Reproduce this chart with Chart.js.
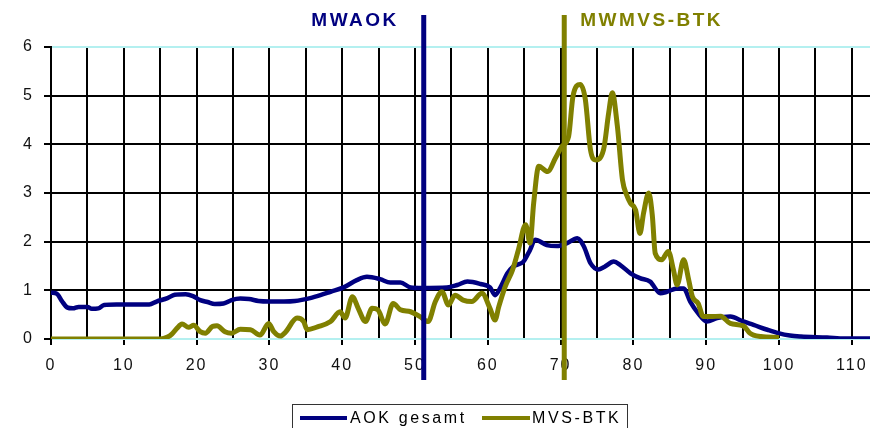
<!DOCTYPE html>
<html><head><meta charset="utf-8">
<script src="https://cdn.jsdelivr.net/npm/chart.js@4/dist/chart.umd.min.js"></script>
<style>html,body{margin:0;padding:0;background:#fff;overflow:hidden}</style>
</head><body>
<canvas id="c" width="870" height="428"></canvas>
<script>
const xTickLabels = [0,10,20,30,40,50,60,70,80,90,100,110];
const yTickLabels = [0,1,2,3,4,5,6];
const seriesNames = ['AOK gesamt','MVS-BTK'];
const seriesColors = ['#000080','#808000'];

const aokAges = [0,0.8,1.5,2.2,3,3.8,5,5.6,6.5,7.3,9,11,13.5,14.5,16,17,18.5,19.5,20.5,21.5,22.5,23.7,24.8,26,27.2,28.5,30,32,33.5,35.6,37,38.4,40.2,42,43.4,45.2,46.6,48,49.4,51,54.4,55.8,57.2,59,60.3,61,61.7,62.7,63.5,64.9,65.8,66.5,68.1,69.5,70.9,72.3,73.2,74.1,75.2,76,77.3,78.2,79.6,80.9,82.3,83.7,84.6,86,86.9,87.8,88.9,90.1,91.5,93.3,95.1,96.5,98.4,99.9,101.5,103,106.6,109,112.5];
const aokValues = [0.95,0.93,0.78,0.65,0.63,0.66,0.66,0.62,0.63,0.70,0.71,0.71,0.71,0.77,0.84,0.91,0.92,0.88,0.80,0.76,0.72,0.73,0.80,0.83,0.82,0.78,0.77,0.77,0.78,0.84,0.90,0.97,1.06,1.21,1.28,1.23,1.16,1.16,1.06,1.05,1.06,1.11,1.18,1.13,1.06,0.90,1.05,1.35,1.49,1.59,1.83,2.04,1.93,1.91,1.97,2.07,1.90,1.56,1.43,1.48,1.59,1.52,1.35,1.25,1.18,0.94,0.97,1.04,1.04,0.77,0.53,0.36,0.43,0.46,0.36,0.29,0.19,0.12,0.07,0.05,0.03,0.01,0.01];

const mvsAges = [0,15,16,16.6,17.3,18,18.9,19.6,20.5,21.2,22.2,22.8,23.9,24.8,26,27.4,28.7,29.9,30.6,31.5,32.2,33.8,34.7,35.2,36.6,38.4,39.7,40.4,41.4,42.2,43.2,44.1,44.9,45.9,47,48,49.4,50.7,51.8,52.8,53.7,54.6,55.5,56.6,57.8,59.2,60.3,61,61.5,62.4,63.4,64.2,65.2,65.8,66.3,67,68.2,69.3,70.2,71.1,71.7,72.7,73.4,74.1,74.8,75.9,76.6,77.1,77.8,78.5,79.1,79.6,80.3,80.9,81.4,82.1,82.6,83,83.9,84.8,85.5,86,86.9,87.6,88.1,88.9,89.6,90.6,92,93.3,95.1,96,96.5,97.5,100];
const mvsValues = [0,0,0.04,0.10,0.22,0.31,0.24,0.28,0.15,0.12,0.26,0.27,0.15,0.12,0.20,0.19,0.08,0.32,0.15,0.06,0.14,0.43,0.36,0.19,0.25,0.36,0.56,0.43,0.87,0.63,0.36,0.63,0.60,0.31,0.73,0.60,0.56,0.46,0.36,0.77,0.97,0.70,0.90,0.80,0.77,0.94,0.63,0.39,0.66,1.08,1.42,1.83,2.35,1.97,2.79,3.55,3.44,3.72,3.96,4.16,4.99,5.23,4.92,3.89,3.68,3.89,4.64,5.06,4.37,3.27,2.95,2.79,2.65,2.17,2.59,3.00,2.54,1.76,1.63,1.80,1.42,1.11,1.63,1.21,0.87,0.73,0.46,0.46,0.47,0.32,0.27,0.12,0.08,0.05,0.03];

const markerValues = [51.2, 70.5];
const markerLabels = ['MWAOK','MWMVS-BTK'];
const markerColors = ['#000080','#808000'];

const FONT = '"Liberation Sans", Arial, sans-serif';
const CYAN = '#b4f0f0';
const GRID = '#000000';
const near = (v, list) => list.some(t => Math.abs(t - v) < 1e-6);

const toPts = (xs, ys) => xs.map((x,i)=>({x:x, y:ys[i]}));

const overlay = {
  id:'overlay',
  beforeDraw(chart){ chart.ctx.letterSpacing = '2px'; },
  beforeDatasetsDraw(chart){ chart.ctx.letterSpacing = '0px'; },
  afterDatasetsDraw(chart){
    const ctx = chart.ctx, x = chart.scales.x;
    markerValues.forEach((v,i)=>{
      const px = x.getPixelForValue(v);
      ctx.save();
      ctx.strokeStyle = markerColors[i];
      ctx.lineWidth = 5;
      ctx.beginPath(); ctx.moveTo(px,15); ctx.lineTo(px,380); ctx.stroke();
      ctx.font = 'bold 19px ' + FONT;
      ctx.letterSpacing = '2.5px';
      ctx.fillStyle = markerColors[i];
      ctx.textBaseline = 'middle';
      if (i === 0) { ctx.textAlign = 'right'; ctx.fillText(markerLabels[i], px - 25, 21); }
      else { ctx.textAlign = 'left'; ctx.fillText(markerLabels[i], px + 16, 21); }
      ctx.restore();
    });
  },
  afterDraw(chart){
    const ctx = chart.ctx;
    ctx.save();
    ctx.letterSpacing = '0px';
    ctx.strokeStyle = '#333';
    ctx.lineWidth = 1;
    ctx.strokeRect(292.5, 404.5, 335, 40);
    const items = [[300,347,350],[482,530,532]];
    chart.data.datasets.forEach((ds,i)=>{
      const it = items[i];
      ctx.strokeStyle = ds.borderColor;
      ctx.lineWidth = 4;
      ctx.beginPath(); ctx.moveTo(it[0],418); ctx.lineTo(it[1],418); ctx.stroke();
      ctx.font = '16px ' + FONT;
      ctx.letterSpacing = '2.6px';
      ctx.fillStyle = '#000';
      ctx.textBaseline = 'middle';
      ctx.textAlign = 'left';
      ctx.fillText(ds.label, it[2], 419);
    });
    ctx.restore();
  }
};

new Chart(document.getElementById('c'), {
  type:'line',
  data:{
    datasets:[
      {label:seriesNames[0], data:toPts(aokAges,aokValues), borderColor:seriesColors[0], backgroundColor:seriesColors[0], borderWidth:4.5, pointRadius:0, cubicInterpolationMode:'monotone', order:1},
      {label:seriesNames[1], data:toPts(mvsAges,mvsValues), borderColor:seriesColors[1], backgroundColor:seriesColors[1], borderWidth:5, pointRadius:0, cubicInterpolationMode:'monotone', order:0}
    ]
  },
  options:{
    responsive:false, animation:false, devicePixelRatio:1,
    layout:{padding:{top:47, right:0, bottom:0, left:0}},
    plugins:{legend:{display:false}, tooltip:{enabled:false}},
    scales:{
      x:{
        type:'linear', min:0, max:112.5,
        afterBuildTicks(s){ s.ticks = []; for (let v = 0; v <= 110; v += 5) s.ticks.push({value:v}); },
        afterFit(s){ s.height = 89; s.paddingLeft = 0; s.paddingRight = 0; },
        ticks:{stepSize:5, autoSkip:false, maxRotation:0, padding:11, color:'#111', font:{family:FONT, size:16},
          callback:(v)=> near(v, xTickLabels) ? String(Math.round(v)) : ''},
        grid:{color:GRID, lineWidth:2, tickLength:6,
          tickColor:(c)=> (c.tick && near(c.tick.value, xTickLabels)) ? GRID : 'rgba(0,0,0,0)'},
        border:{color:CYAN, width:2}
      },
      y:{
        min:0, max:6,
        afterBuildTicks(s){ s.ticks = yTickLabels.map(v=>({value:v})); },
        afterFit(s){ s.width = 51; s.paddingTop = 0; s.paddingBottom = 0; },
        ticks:{stepSize:1, padding:10, color:'#111', font:{family:FONT, size:16}},
        grid:{lineWidth:2, tickLength:7, tickColor:GRID,
          color:(c)=> (c.tick && (c.tick.value===6 || c.tick.value===0)) ? CYAN : GRID},
        border:{color:GRID, width:2}
      }
    }
  },
  plugins:[overlay]
});
</script>
</body></html>
